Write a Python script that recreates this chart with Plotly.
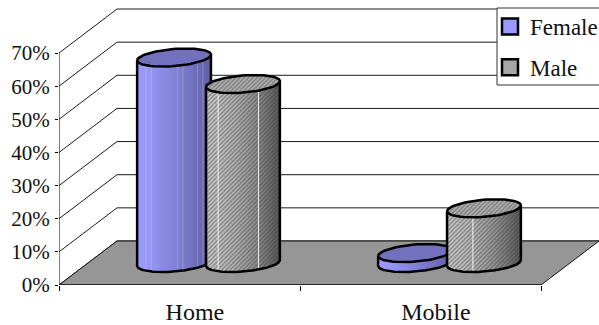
import math
import plotly.graph_objects as go

# Survey shares by category and sex, in percent
categories = ["Home", "Mobile"]
female_values = [62, 3]
male_values = [54, 16.5]
value_ticks = [0, 10, 20, 30, 40, 50, 60, 70]
value_labels = ["0%", "10%", "20%", "30%", "40%", "50%", "60%", "70%"]

# Oblique projection of the depth axis, in data units per unit of depth
DEPTH_X = 0.2407
DEPTH_Y = 13.28
RADIUS_X = 0.145
RADIUS_Z = 0.205
SERIES_OFFSET = 0.143
STRIPS = 37


def project(x, value, z):
    return x + DEPTH_X * z, value + DEPTH_Y * z


def ring(x0, value, t):
    return project(x0 + RADIUS_X * math.cos(t), value, 0.5 + RADIUS_Z * math.sin(t))


def lerp(a, b, f):
    return tuple(p + (q - p) * f for p, q in zip(a, b))


def rgb(c):
    return "rgb(%d,%d,%d)" % tuple(round(v) for v in c)


fig = go.Figure()


def poly(xs, ys, fill=None, line="black", width=1.0, pattern=None):
    fig.add_trace(go.Scatter(
        x=xs, y=ys, mode="lines", showlegend=False, hoverinfo="skip",
        cliponaxis=False,
        fill="toself" if fill else "none",
        fillcolor=fill,
        fillpattern=pattern,
        line=dict(color=line, width=width),
    ))


def cylinder(x0, value, shade, top_fill, top_pattern=None, hatch=None,
             highlights=(), highlight_color="rgba(255,255,255,0.85)"):
    # Skewed ellipse: its horizontal silhouette sits at t = a and t = a + pi
    a = math.atan2(DEPTH_X * RADIUS_Z, RADIUS_X)
    front = lambda f: a + 2 * math.pi - math.acos(2 * f - 1)

    for i in range(STRIPS):
        f0, f1 = i / STRIPS, min(1, (i + 1.6) / STRIPS)
        t0, t1 = front(f0), front(f1)
        pts = [ring(x0, 0, t0), ring(x0, 0, t1), ring(x0, value, t1), ring(x0, value, t0)]
        color = rgb(shade((i + 0.5) / STRIPS))
        pat = None
        if hatch:
            pat = dict(shape="/", size=3, solidity=0.5, bgcolor=color, fgcolor=hatch)
        poly([p[0] for p in pts] + [pts[0][0]], [p[1] for p in pts] + [pts[0][1]],
             fill=color, line="rgba(0,0,0,0)", width=0, pattern=pat)

    for f in highlights:
        p, q = ring(x0, 0, front(f)), ring(x0, value, front(f))
        poly([p[0], q[0]], [p[1], q[1]], line=highlight_color, width=1)

    # Outline: bottom arc and sides, then the closed lid
    steps = [front(k / 60) for k in range(61)]
    outline = [ring(x0, value, steps[0])] + [ring(x0, 0, t) for t in steps] + [ring(x0, value, steps[-1])]
    poly([p[0] for p in outline], [p[1] for p in outline], line="black", width=2.5)

    lid = [ring(x0, value, 2 * math.pi * k / 72) for k in range(73)]
    poly([p[0] for p in lid], [p[1] for p in lid], fill=top_fill, line="black", width=2.5,
         pattern=top_pattern)


def female_shade(f):
    return lerp((156, 156, 255), (96, 96, 164), f ** 1.2)


def male_shade(f):
    return lerp((205, 205, 205), (85, 85, 85), f ** 1.8)


# Walls: each gridline runs along the side wall and then across the back wall
end_x = 2 + DEPTH_X
for tick in value_ticks:
    p0 = project(0, tick, 0)
    p1 = project(0, tick, 1)
    poly([p0[0], p1[0], end_x], [p0[1], p1[1], p1[1]], line="#1a1a1a", width=1)

# Floor
floor = [project(0, 0, 0), project(2, 0, 0), project(2, 0, 1), project(0, 0, 1), project(0, 0, 0)]
poly([p[0] for p in floor], [p[1] for p in floor], fill="#969696", line="#111111", width=1)

# Value axis line
poly([0, 0], [0, 70], line="black", width=1)

male_top = dict(shape="/", size=3, solidity=0.5, bgcolor="#b4b4b4", fgcolor="#484848")
female_top = "#7171bd"
male_highlights = [(0.163, 0.71), (0.35,)]
female_highlights = [(0.12, 0.19, 0.55, 0.62, 0.82, 0.89), ()]

for i in range(len(categories)):
    centre = i + 0.5
    cylinder(centre - SERIES_OFFSET, female_values[i], female_shade, female_top,
             highlights=female_highlights[i], highlight_color="rgba(255,255,255,0.22)")
    cylinder(centre + SERIES_OFFSET, male_values[i], male_shade, "#b4b4b4",
             top_pattern=male_top, hatch="#404040", highlights=male_highlights[i])

# Legend entries
fig.add_trace(go.Scatter(
    x=[None], y=[None], name="Female", legendgroup="female", mode="markers",
    marker=dict(symbol="square", size=16, color="#9999ff", line=dict(color="black", width=2.5)),
))
fig.add_trace(go.Scatter(
    x=[None], y=[None], name="Male", legendgroup="male", mode="markers",
    marker=dict(symbol="square", size=16, color="#a6a6a6", line=dict(color="black", width=2.5)),
))

fig.update_layout(
    width=599, height=325,
    margin=dict(l=59, r=0, t=0, b=40, autoexpand=False),
    paper_bgcolor="white", plot_bgcolor="white",
    font=dict(family="Liberation Serif", color="#111111"),
    showlegend=True,
    legend=dict(
        x=(490 - 59) / 540, xanchor="left",
        y=1 - 5 / 285, yanchor="top",
        bgcolor="rgba(0,0,0,0)", borderwidth=0,
        font=dict(size=23, family="Liberation Serif", color="#111111"),
        tracegroupgap=8, itemclick=False, itemdoubleclick=False,
    ),
    shapes=[
        dict(type="rect", xref="paper", yref="paper", layer="above",
             x0=(497 - 59) / 540, x1=1.01,
             y0=1 - 85 / 285, y1=1 - 8 / 285,
             fillcolor="white", line=dict(color="#333333", width=1)),
        # Front edge of the floor
        dict(type="line", xref="x", yref="y", x0=0, x1=2, y0=0, y1=0,
             line=dict(color="black", width=1), layer="above"),
    ],
    xaxis=dict(
        type="linear", range=[0, 540 / 241], showgrid=False, zeroline=False,
        showline=True, linecolor="rgba(0,0,0,0)",
        tickmode="array", tickvals=[0.564, 1.564], ticktext=categories,
        ticks="outside", ticklen=5, tickcolor="rgba(0,0,0,0)",
        tickfont=dict(size=24, family="Liberation Serif", color="#111111"),
        minor=dict(tickmode="array", tickvals=[0, 1, 2], ticks="outside",
                   ticklen=5, tickcolor="black", tickwidth=1, showgrid=False),
    ),
    yaxis=dict(
        type="linear", range=[0, 285 / 3.314], showgrid=False, zeroline=False,
        tickmode="array", tickvals=value_ticks, ticktext=value_labels,
        ticks="outside", ticklen=3, tickcolor="black", tickwidth=1, ticklabelstandoff=1,
        tickfont=dict(size=21, family="Liberation Serif", color="#111111"),
    ),
)

fig.write_html("out.html")
